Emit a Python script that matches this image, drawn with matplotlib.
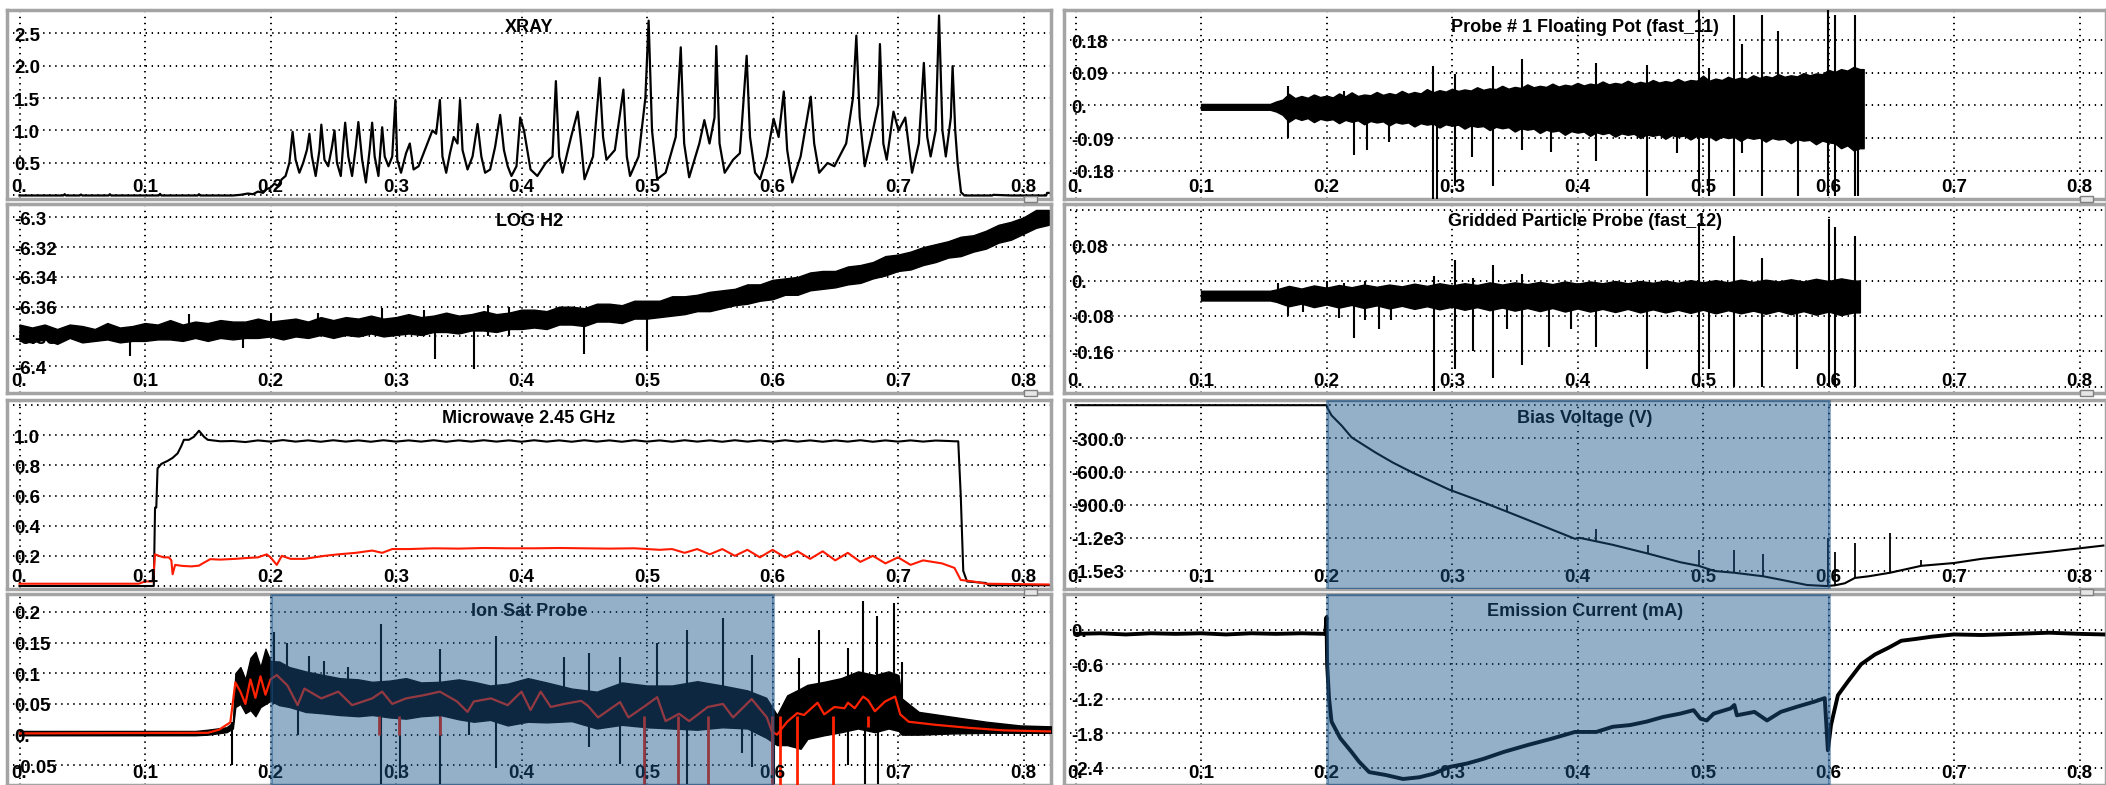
import matplotlib
matplotlib.use("Agg")
import matplotlib.pyplot as plt
from matplotlib import transforms
from matplotlib.patches import Rectangle

plt.rcParams['font.family'] = ['Liberation Sans', 'DejaVu Sans']

# ------------------------------------------------------------------ data
xray_t = [0.000,0.035,0.036,0.037,0.048,0.049,0.050,0.071,0.072,0.073,0.111,0.112,0.113,0.142,0.143,0.144,
          0.170,0.176,0.182,0.186,0.190,0.194,0.197,0.200,0.203,0.206,0.209,0.212,0.215,0.2176,0.220,0.223,
          0.226,0.229,0.231,0.233,0.236,0.239,0.2405,0.243,0.246,0.249,0.251,0.253,0.256,0.258,0.2595,0.262,
          0.265,0.268,0.270,0.273,0.276,0.279,0.281,0.283,0.286,0.289,0.291,0.294,0.297,0.2995,0.301,0.304,
          0.308,0.311,0.314,0.318,0.322,0.326,0.329,0.332,0.335,0.337,0.340,0.343,0.346,0.349,0.351,0.353,
          0.357,0.361,0.365,0.368,0.371,0.375,0.379,0.383,0.386,0.389,0.392,0.396,0.399,0.402,0.4072,0.4126,
          0.4193,0.4247,0.4274,0.430,0.4327,0.4395,0.4448,0.4475,0.4502,0.457,0.4623,0.465,0.4677,0.4744,
          0.4812,0.4839,0.4865,0.4933,0.4987,0.5013,0.504,0.5081,0.5148,0.5229,0.5269,0.5296,0.5336,0.5417,
          0.5457,0.5498,0.5538,0.5552,0.5578,0.5619,0.5686,0.574,0.5794,0.5821,0.5861,0.5901,0.5955,0.6009,
          0.6049,0.609,0.6117,0.6157,0.6224,0.6305,0.6332,0.6372,0.6439,0.6493,0.6587,0.6641,0.6668,0.6695,
          0.6735,0.6789,0.6843,0.6856,0.6883,0.691,0.6964,0.7004,0.7058,0.7112,0.7166,0.7206,0.7233,0.726,
          0.730,0.7327,0.7354,0.7381,0.7421,0.7435,0.7456,0.7475,0.7502,0.7529,0.775,0.776,0.790,0.818,
          0.8188,0.820]
xray_v = [0.0,0.0,0.02,0.0,0.0,0.015,0.0,0.0,0.02,0.0,0.0,0.025,0.0,0.0,0.02,0.0,
          0.0,0.01,0.03,0.02,0.06,0.04,0.10,0.12,0.18,0.15,0.25,0.30,0.50,0.98,0.55,0.35,
          0.50,0.70,0.95,0.60,0.30,0.70,1.09,0.55,0.45,0.75,1.00,0.50,0.30,0.80,1.12,0.60,
          0.30,0.75,1.13,0.55,0.20,0.70,1.12,0.60,0.30,1.05,0.60,0.45,0.60,1.47,0.55,0.35,
          0.65,0.80,0.40,0.45,0.65,0.85,1.00,0.95,1.47,0.60,0.35,0.65,0.90,0.80,1.47,0.70,
          0.40,0.60,1.10,0.60,0.35,0.40,0.75,1.24,0.70,0.45,0.30,0.45,1.20,1.00,0.40,0.30,
          0.50,0.60,1.76,0.60,0.35,0.90,1.29,0.80,0.25,0.60,1.81,0.90,0.55,0.70,
          1.63,0.60,0.30,0.60,1.50,2.69,1.00,0.25,0.35,0.90,2.28,0.80,0.28,0.80,
          1.16,0.80,1.20,2.30,0.80,0.35,0.55,0.65,2.15,0.90,0.35,0.25,0.60,1.18,
          0.90,1.60,0.70,0.20,0.60,1.52,0.80,0.35,0.50,0.45,0.80,1.50,2.46,1.20,
          0.45,0.90,1.40,2.33,0.80,0.55,1.29,1.00,1.20,0.35,0.80,2.04,0.90,0.60,
          1.00,2.77,1.00,0.60,1.20,1.99,1.00,0.50,0.05,0.0,0.0,0.01,0.0,0.0,
          0.04,0.04]

logh2_t = [0.00,0.01,0.02,0.03,0.04,0.05,0.06,0.07,0.08,0.09,0.10,0.11,0.12,0.13,0.14,0.15,0.16,0.17,0.18,0.19,
           0.20,0.21,0.22,0.23,0.24,0.25,0.26,0.27,0.28,0.29,0.30,0.31,0.32,0.33,0.34,0.35,0.36,0.37,0.38,0.39,
           0.40,0.41,0.42,0.43,0.44,0.45,0.46,0.47,0.48,0.49,0.50,0.51,0.52,0.53,0.54,0.55,0.56,0.57,0.58,0.59,
           0.60,0.61,0.62,0.63,0.64,0.65,0.66,0.67,0.68,0.69,0.70,0.71,0.72,0.73,0.74,0.75,0.76,0.77,0.78,0.79,
           0.80,0.81,0.82]
logh2_hi = [-6.372,-6.374,-6.372,-6.375,-6.372,-6.373,-6.375,-6.371,-6.374,-6.373,-6.371,-6.372,-6.369,-6.372,
            -6.370,-6.371,-6.369,-6.370,-6.370,-6.368,-6.370,-6.369,-6.368,-6.370,-6.367,-6.369,-6.367,-6.368,
            -6.366,-6.368,-6.367,-6.365,-6.367,-6.366,-6.364,-6.366,-6.365,-6.363,-6.365,-6.364,-6.362,-6.362,
            -6.363,-6.360,-6.360,-6.361,-6.358,-6.358,-6.359,-6.356,-6.356,-6.356,-6.353,-6.353,-6.352,-6.350,
            -6.349,-6.348,-6.345,-6.345,-6.342,-6.341,-6.340,-6.337,-6.336,-6.336,-6.333,-6.332,-6.330,-6.326,
            -6.325,-6.323,-6.320,-6.318,-6.316,-6.313,-6.312,-6.309,-6.305,-6.303,-6.300,-6.295,-6.295]
logh2_lo = [-6.383,-6.384,-6.382,-6.385,-6.381,-6.384,-6.383,-6.382,-6.384,-6.383,-6.383,-6.382,-6.382,-6.383,
            -6.381,-6.383,-6.381,-6.382,-6.381,-6.381,-6.380,-6.382,-6.380,-6.381,-6.379,-6.381,-6.379,-6.380,
            -6.378,-6.380,-6.379,-6.378,-6.379,-6.377,-6.377,-6.378,-6.376,-6.376,-6.377,-6.375,-6.375,-6.374,
            -6.375,-6.372,-6.372,-6.373,-6.370,-6.370,-6.371,-6.368,-6.368,-6.367,-6.366,-6.365,-6.363,-6.363,
            -6.361,-6.359,-6.358,-6.356,-6.355,-6.352,-6.352,-6.349,-6.348,-6.347,-6.345,-6.344,-6.341,-6.339,
            -6.336,-6.335,-6.332,-6.330,-6.327,-6.326,-6.323,-6.321,-6.317,-6.315,-6.311,-6.307,-6.305]
logh2_spk_t = [0.088,0.135,0.178,0.200,0.238,0.289,0.322,0.331,0.362,0.373,0.390,0.45,0.50]
logh2_spk_lo = [-6.393,-6.380,-6.388,-6.380,-6.380,-6.380,-6.380,-6.395,-6.402,-6.380,-6.380,-6.392,-6.390]
logh2_spk_hi = [-6.376,-6.365,-6.372,-6.364,-6.364,-6.361,-6.362,-6.370,-6.370,-6.359,-6.360,-6.362,-6.360]

mw_t = [0.0,0.107,0.108,0.109,0.110,0.113,0.118,0.122,0.126,0.129,0.131,0.135,0.139,0.143,0.147,0.150,0.155,0.160,
        0.17,0.18,0.19,0.20,0.21,0.22,0.23,0.24,0.25,0.26,0.27,0.28,0.29,0.30,0.31,0.32,0.33,0.34,0.35,0.36,
        0.37,0.38,0.39,0.40,0.41,0.42,0.43,0.44,0.45,0.46,0.47,0.48,0.49,0.50,0.51,0.52,0.53,0.54,0.55,0.56,
        0.57,0.58,0.59,0.60,0.61,0.62,0.63,0.64,0.65,0.66,0.67,0.68,0.69,0.70,0.71,0.72,0.73,0.74,0.745,0.748,
        0.750,0.752,0.755,0.770,0.772,0.820]
mw_black = [0.0,0.0,0.52,0.52,0.78,0.81,0.83,0.85,0.88,0.93,0.97,0.97,0.99,1.03,0.99,0.97,0.965,0.96,
            0.962,0.955,0.966,0.958,0.968,0.958,0.966,0.957,0.967,0.958,0.966,0.957,0.967,0.958,0.966,0.958,0.967,0.957,0.966,0.958,
            0.967,0.958,0.966,0.957,0.967,0.958,0.966,0.957,0.967,0.958,0.966,0.957,0.967,0.958,0.966,0.957,0.967,0.958,0.966,0.957,
            0.967,0.958,0.966,0.957,0.967,0.958,0.966,0.957,0.966,0.958,0.967,0.957,0.966,0.958,0.966,0.958,0.965,0.962,0.960,0.960,
            0.60,0.10,0.03,0.02,0.005,0.005]
mwr_t = [0.0,0.095,0.100,0.106,0.107,0.108,0.111,0.115,0.119,0.121,0.122,0.124,0.130,0.137,0.143,0.146,0.152,0.160,
         0.172,0.180,0.190,0.197,0.200,0.205,0.209,0.216,0.227,0.235,0.243,0.254,0.268,0.281,0.289,0.297,0.31,0.33,
         0.35,0.37,0.39,0.41,0.43,0.45,0.47,0.49,0.50,0.51,0.52,0.53,0.54,0.55,0.56,0.57,0.58,0.59,0.60,0.61,0.62,
         0.63,0.64,0.65,0.66,0.67,0.68,0.69,0.70,0.71,0.72,0.735,0.745,0.750,0.760,0.770,0.820]
mwr_v = [0.015,0.015,0.03,0.03,0.10,0.21,0.20,0.19,0.19,0.17,0.078,0.14,0.133,0.13,0.135,0.15,0.178,0.175,
         0.18,0.185,0.19,0.21,0.19,0.14,0.20,0.18,0.18,0.19,0.20,0.21,0.22,0.235,0.22,0.245,0.245,0.25,
         0.248,0.252,0.25,0.25,0.252,0.25,0.248,0.25,0.245,0.24,0.245,0.22,0.245,0.21,0.245,0.20,0.24,0.19,0.24,0.19,0.23,
         0.18,0.23,0.17,0.22,0.16,0.20,0.15,0.19,0.14,0.17,0.15,0.12,0.04,0.03,0.015,0.01]

ion_t = [0.0,0.14,0.15,0.165,0.170,0.172,0.176,0.180,0.184,0.188,0.192,0.196,0.200,0.207,0.215,0.228,0.240,0.255,
         0.270,0.281,0.295,0.308,0.320,0.335,0.350,0.362,0.375,0.389,0.405,0.420,0.440,0.460,0.480,0.500,0.520,
         0.540,0.560,0.580,0.595,0.6036,0.6117,0.6224,0.6278,0.6412,0.6547,0.6681,0.6816,0.6924,0.7004,0.703,
         0.7166,0.7435,0.7704,0.7973,0.830]
ion_hi = [0.006,0.006,0.008,0.012,0.020,0.100,0.110,0.090,0.125,0.135,0.110,0.140,0.120,0.119,0.110,0.103,0.098,0.092,
          0.090,0.086,0.088,0.092,0.085,0.086,0.090,0.086,0.080,0.083,0.092,0.085,0.075,0.070,0.085,0.080,0.080,
          0.087,0.080,0.072,0.060,0.032,0.064,0.075,0.081,0.086,0.092,0.103,0.097,0.103,0.097,0.059,
          0.037,0.029,0.021,0.015,0.013]
ion_lo = [-0.001,-0.001,0.000,0.004,0.010,0.045,0.050,0.035,0.040,0.030,0.045,0.050,0.055,0.048,0.045,0.037,0.035,0.032,
          0.030,0.032,0.028,0.026,0.030,0.032,0.025,0.021,0.024,0.015,0.021,0.020,0.022,0.010,0.016,0.012,0.010,
          0.008,0.012,0.010,-0.005,-0.017,-0.017,-0.023,-0.007,-0.001,0.004,0.010,0.004,0.010,0.006,0.000,
          0.000,0.002,0.003,0.003,0.003]
ion_red_t = [0.0,0.150,0.159,0.168,0.172,0.176,0.180,0.184,0.188,0.192,0.196,0.200,0.205,0.2135,0.2216,0.227,0.2405,
             0.254,0.265,0.281,0.289,0.297,0.308,0.3216,0.335,0.3486,0.357,0.362,0.3757,0.389,0.400,0.4072,0.4153,
             0.4233,0.4341,0.4475,0.4529,0.461,0.4785,0.4852,0.4987,0.5081,0.5148,0.5256,0.5336,0.5484,0.5605,0.5686,
             0.5834,0.5955,0.5995,0.6036,0.6117,0.6197,0.6251,0.6359,0.6412,0.6493,0.6574,0.6601,0.6655,0.6722,
             0.6762,0.6816,0.6897,0.6977,0.7018,0.7085,0.730,0.7569,0.7838,0.8255]
ion_red = [0.002,0.003,0.008,0.020,0.085,0.070,0.050,0.090,0.060,0.095,0.065,0.090,0.097,0.080,0.048,0.075,0.059,
           0.070,0.048,0.059,0.070,0.050,0.059,0.064,0.070,0.054,0.037,0.054,0.059,0.048,0.070,0.040,0.070,
           0.045,0.050,0.055,0.047,0.028,0.053,0.028,0.047,0.061,0.022,0.034,0.022,0.045,0.050,0.028,
           0.058,0.028,0.005,0.000,0.021,0.035,0.032,0.052,0.033,0.045,0.043,0.052,0.043,0.062,
           0.056,0.038,0.054,0.062,0.033,0.021,0.016,0.011,0.007,0.005]
ion_spk_t = [0.169,0.2027,0.2135,0.2216,0.231,0.243,0.262,0.288,0.303,0.335,0.358,0.380,0.434,0.454,0.4785,
             0.4987,0.508,0.5315,0.5605,0.5753,0.5834,0.601,0.6211,0.6372,0.6601,0.6722,0.6735,0.6829,0.6843,
             0.6972,0.7031]
ion_spk_lo = [-0.050,0.050,0.050,0.000,0.040,0.040,0.030,-0.080,-0.070,-0.080,0.000,-0.055,0.020,-0.020,-0.048,
              -0.080,0.015,-0.080,0.015,-0.030,-0.053,-0.080,0.000,0.000,-0.050,0.010,-0.080,0.010,-0.080,
              0.010,0.010]
ion_spk_hi = [0.020,0.167,0.150,0.050,0.128,0.120,0.110,0.180,0.060,0.140,0.060,0.160,0.127,0.133,0.127,
              0.060,0.149,0.171,0.190,0.060,0.130,0.040,0.125,0.171,0.141,0.217,0.060,0.193,0.060,
              0.215,0.119]
ion_red_spk_t = [0.2865,0.3027,0.335,0.4973,0.525,0.5484,0.5995,0.6063,0.6197,0.648,0.6762]
ion_red_spk_lo = [0.000,0.000,0.000,-0.09,-0.09,-0.09,-0.09,-0.09,-0.09,-0.09,0.013]

p1_t = [0.100,0.155,
        0.160,0.165,0.170,0.175,0.180,0.185,0.190,0.195,0.200,0.205,0.210,0.215,0.220,0.225,0.230,0.235,
        0.240,0.245,0.250,0.255,0.260,0.265,0.270,0.275,0.280,0.285,0.290,0.295,0.300,0.305,0.310,0.315,
        0.320,0.325,0.330,0.335,0.340,0.345,0.350,0.355,0.360,0.365,0.370,0.375,0.380,0.385,0.390,0.395,
        0.400,0.405,0.410,0.415,0.420,0.425,0.430,0.435,0.440,0.445,0.450,0.455,0.460,0.465,0.470,0.475,
        0.480,0.485,0.490,0.495,0.500,0.505,0.510,0.515,0.520,0.525,0.530,0.535,0.540,0.545,0.550,0.555,
        0.560,0.565,0.570,0.575,0.580,0.585,0.590,0.595,0.600,0.605,0.610,0.615,0.620,0.625,0.628]
p1_hi = [0.004,0.004,
         0.011,0.016,0.032,0.020,0.026,0.021,0.030,0.023,0.027,0.022,0.033,0.025,0.036,0.026,0.030,0.028,
         0.037,0.029,0.034,0.030,0.040,0.032,0.037,0.033,0.045,0.036,0.042,0.038,0.046,0.040,0.044,0.041,
         0.050,0.043,0.047,0.045,0.054,0.046,0.051,0.048,0.058,0.050,0.054,0.051,0.060,0.052,0.057,0.054,
         0.062,0.055,0.060,0.057,0.066,0.058,0.062,0.059,0.068,0.060,0.065,0.061,0.070,0.063,0.067,0.064,
         0.073,0.065,0.070,0.068,0.082,0.068,0.074,0.070,0.079,0.072,0.077,0.073,0.083,0.076,0.081,0.077,
         0.086,0.079,0.083,0.080,0.089,0.083,0.088,0.086,0.098,0.092,0.100,0.096,0.106,0.100,0.100]
p1_lo = [-0.012,-0.012,
         -0.017,-0.026,-0.045,-0.034,-0.040,-0.035,-0.046,-0.037,-0.041,-0.038,-0.049,-0.040,-0.045,-0.041,-0.052,-0.043,
         -0.047,-0.044,-0.055,-0.046,-0.050,-0.047,-0.058,-0.049,-0.053,-0.050,-0.061,-0.052,-0.056,-0.053,-0.064,-0.055,
         -0.059,-0.057,-0.068,-0.059,-0.063,-0.060,-0.072,-0.063,-0.067,-0.064,-0.076,-0.067,-0.072,-0.069,-0.081,-0.071,
         -0.075,-0.072,-0.084,-0.074,-0.079,-0.075,-0.086,-0.077,-0.081,-0.078,-0.090,-0.080,-0.084,-0.080,-0.092,-0.082,
         -0.086,-0.083,-0.094,-0.084,-0.088,-0.085,-0.096,-0.086,-0.090,-0.087,-0.098,-0.088,-0.092,-0.089,-0.100,-0.090,
         -0.094,-0.092,-0.104,-0.093,-0.097,-0.095,-0.107,-0.097,-0.102,-0.104,-0.118,-0.110,-0.124,-0.118,-0.118]
p1_spk_t = [0.169,0.214,0.222,0.2325,0.250,0.285,0.288,0.302,0.316,0.333,0.356,0.379,0.415,0.455,0.479,
            0.4965,0.5045,0.5246,0.5313,0.5473,0.5594,0.5754,0.5995,0.6048,0.6209,0.6235]
p1_spk_lo = [-0.091,-0.040,-0.138,-0.124,-0.100,-0.269,-0.269,-0.222,-0.143,-0.222,-0.124,-0.129,-0.154,-0.250,-0.130,
             -0.250,-0.250,-0.250,-0.131,-0.250,-0.080,-0.250,-0.250,-0.250,-0.250,-0.250]
p1_spk_hi = [0.053,0.040,0.020,0.020,0.020,0.109,0.030,0.086,0.030,0.109,0.128,0.040,0.117,0.112,0.050,
             0.262,0.103,0.248,0.168,0.248,0.206,0.050,0.262,0.248,0.248,0.080]

gp_t = [0.100,0.155,0.16,0.17,0.18,0.19,0.20,0.21,0.22,0.23,0.24,0.25,0.26,0.27,0.28,0.29,0.30,0.31,0.32,0.33,
        0.34,0.35,0.36,0.37,0.38,0.39,0.40,0.41,0.42,0.43,0.44,0.45,0.46,0.47,0.48,0.49,0.50,0.51,0.52,0.53,
        0.54,0.55,0.56,0.57,0.58,0.59,0.60,0.61,0.62,0.625]
gp_hi = [-0.023,-0.023,-0.020,-0.012,-0.018,-0.011,-0.016,-0.010,-0.015,-0.009,-0.014,-0.009,-0.013,-0.007,-0.012,
         -0.006,-0.011,-0.006,-0.010,-0.004,-0.009,-0.004,-0.008,-0.003,-0.008,-0.002,-0.007,-0.002,-0.006,-0.001,
         -0.006,-0.001,-0.005,0.000,-0.005,0.001,-0.004,0.001,-0.004,0.002,-0.003,0.002,-0.002,0.003,-0.002,0.004,
         -0.001,0.005,0.000,0.000]
gp_lo = [-0.045,-0.045,-0.048,-0.058,-0.052,-0.060,-0.054,-0.061,-0.055,-0.062,-0.056,-0.063,-0.057,-0.064,-0.058,
         -0.065,-0.059,-0.066,-0.060,-0.067,-0.061,-0.068,-0.062,-0.069,-0.062,-0.070,-0.063,-0.070,-0.064,-0.071,
         -0.064,-0.072,-0.065,-0.072,-0.066,-0.073,-0.066,-0.074,-0.067,-0.074,-0.068,-0.075,-0.068,-0.076,-0.069,
         -0.077,-0.070,-0.078,-0.072,-0.072]
gp_spk_t = [0.161,0.169,0.181,0.200,0.210,0.214,0.222,0.231,0.242,0.251,0.286,0.302,0.317,0.333,0.344,0.356,
            0.377,0.395,0.415,0.455,0.497,0.505,0.525,0.547,0.575,0.600,0.605,0.621]
gp_spk_lo = [-0.030,-0.080,-0.070,-0.040,-0.085,-0.040,-0.130,-0.090,-0.110,-0.090,-0.250,-0.200,-0.160,-0.220,-0.110,-0.190,
             -0.150,-0.110,-0.150,-0.200,-0.240,-0.200,-0.240,-0.240,-0.200,-0.240,-0.240,-0.240]
gp_spk_hi = [-0.005,-0.020,-0.020,0.000,-0.020,-0.005,-0.020,0.000,-0.020,-0.020,0.010,0.046,0.005,0.036,-0.010,0.014,
             -0.010,-0.010,-0.010,-0.010,0.130,0.000,0.100,0.050,-0.010,0.140,0.120,0.100]

bias_t = [0.0,0.200,0.201,0.204,0.212,0.220,0.239,0.253,0.269,0.298,0.320,0.344,0.371,0.398,0.4016,0.415,0.428,
          0.456,0.482,0.4965,0.509,0.525,0.548,0.562,0.583,0.598,0.605,0.613,0.621,0.632,0.649,0.674,0.700,
          0.722,0.749,0.776,0.800,0.819]
bias_v = [0.0,0.0,-30,-92,-184,-291,-428,-520,-612,-765,-857,-964,-1086,-1209,-1200,-1232,-1263,
          -1342,-1421,-1453,-1500,-1516,-1548,-1579,-1627,-1636,-1630,-1611,-1563,-1548,-1516,-1453,-1428,
          -1390,-1358,-1326,-1295,-1270]
bias_spk_t = [0.300,0.344,0.415,0.456,0.4965,0.525,0.548,0.5995,0.605,0.621,0.649,0.674]
bias_spk_lo = [-770,-964,-1232,-1342,-1453,-1516,-1548,-1636,-1630,-1563,-1516,-1453]
bias_spk_hi = [-720,-900,-1121,-1263,-1310,-1310,-1342,-1200,-1326,-1247,-1153,-1400]

em_t = [0.0,0.02,0.04,0.06,0.08,0.10,0.12,0.14,0.16,0.18,0.199,0.200,0.2005,0.202,0.204,0.211,0.220,0.226,0.234,
        0.247,0.261,0.274,0.285,0.298,0.312,0.325,0.341,0.360,0.379,0.398,0.415,0.428,0.442,0.455,0.468,0.482,
        0.4925,0.498,0.503,0.5086,0.522,0.525,0.527,0.541,0.551,0.562,0.575,0.589,0.597,0.5995,0.602,0.6075,
        0.6155,0.626,0.637,0.648,0.658,0.669,0.682,0.700,0.722,0.749,0.776,0.800,0.819]
em_v = [-0.07,-0.06,-0.08,-0.06,-0.07,-0.06,-0.08,-0.06,-0.07,-0.06,-0.07,0.22,-0.60,-1.19,-1.60,-1.89,-2.13,-2.30,-2.48,
        -2.53,-2.60,-2.57,-2.51,-2.39,-2.33,-2.25,-2.13,-2.01,-1.90,-1.78,-1.78,-1.69,-1.66,-1.60,-1.52,-1.46,
        -1.40,-1.55,-1.58,-1.46,-1.37,-1.31,-1.49,-1.43,-1.58,-1.43,-1.34,-1.25,-1.19,-2.10,-1.66,-1.14,
        -0.90,-0.60,-0.43,-0.31,-0.19,-0.16,-0.12,-0.08,-0.09,-0.07,-0.05,-0.07,-0.08]

xticks = [0.0,0.1,0.2,0.3,0.4,0.5,0.6,0.7,0.8]
xticklabels = ["0.","0.1","0.2","0.3","0.4","0.5","0.6","0.7","0.8"]

# ------------------------------------------------------------------ layout helpers
W, H = 2106, 785
fig = plt.figure(figsize=(W / 100, H / 100), dpi=100)
fig.patch.set_facecolor('white')

LBL = dict(fontsize=13.5, fontweight='bold', color='black')
TTL = dict(fontsize=13, fontweight='bold', color='black')


def panel(x0, x1, y0, y1, xlim, ylim, ygrid, ylabels, title):
    ax = fig.add_axes([x0 / W, 1 - y1 / H, (x1 - x0) / W, (y1 - y0) / H])
    ax.set_xlim(*xlim)
    ax.set_ylim(*ylim)
    ax.set_xticks(xticks)
    ax.set_yticks(ygrid)
    ax.tick_params(length=0, labelbottom=False, labelleft=False)
    ax.grid(True, color='black', linestyle=(0, (0.7, 2.4)), linewidth=1.4)
    ax.set_axisbelow(True)
    for s in ax.spines.values():
        s.set_color('#a4a4a4')
        s.set_linewidth(2.5)
    ty = transforms.blended_transform_factory(ax.transAxes, ax.transData) + \
        transforms.ScaledTranslation(7 / 100, -3 / 100, fig.dpi_scale_trans)
    for v, s in ylabels:
        ax.text(0, v, s, transform=ty, ha='left', va='center', zorder=6, **LBL)
    tx = transforms.blended_transform_factory(ax.transData, ax.transAxes) + \
        transforms.ScaledTranslation(0, 11 / 100, fig.dpi_scale_trans)
    for v, s in zip(xticks, xticklabels):
        ax.text(v, 0, s, transform=tx, ha='center', va='center', zorder=6, **LBL)
    tt = ax.transAxes + transforms.ScaledTranslation(0, -18 / 100, fig.dpi_scale_trans)
    ax.text(0.5, 1, title, transform=tt, ha='center', va='center', zorder=6, **TTL)
    return ax


def shade(ax):
    ax.axvspan(0.2, 0.6, facecolor='#1c558b', alpha=0.47, edgecolor='#1c558b', lw=2.2, zorder=10)


LX = (7, 1051)
RX = (1064, 2106)
LXL = ((7 - 19.5) / 1255, (1051 - 19.5) / 1255)
RXL = ((1064 - 1075.5) / 1255, (2106 - 1075.5) / 1255)
ROWS = [(10, 199), (204, 393), (400, 589), (594, 785)]

# ---- XRAY
ax = panel(*LX, *ROWS[0], LXL, (-0.054, 2.854), [0, 0.5, 1.0, 1.5, 2.0, 2.5],
           [(0.5, "0.5"), (1.0, "1.0"), (1.5, "1.5"), (2.0, "2.0"), (2.5, "2.5")], "XRAY")
ax.plot(xray_t, xray_v, color='black', lw=1.6, zorder=3)

# ---- LOG H2
ax = panel(*LX, *ROWS[1], LXL, (-6.418, -6.291), [-6.4, -6.38, -6.36, -6.34, -6.32, -6.3],
           [(-6.3, "-6.3"), (-6.32, "-6.32"), (-6.34, "-6.34"), (-6.36, "-6.36"), (-6.38, "-6.38"), (-6.4, "-6.4")],
           "LOG H2")
ax.fill_between(logh2_t, logh2_lo, logh2_hi, color='black', lw=1.0, zorder=3)
ax.vlines(logh2_spk_t, logh2_spk_lo, logh2_spk_hi, color='black', lw=1.5, zorder=3)

# ---- Microwave
ax = panel(*LX, *ROWS[2], LXL, (-0.02, 1.234), [0, 0.2, 0.4, 0.6, 0.8, 1.0, 1.2],
           [(0.2, "0.2"), (0.4, "0.4"), (0.6, "0.6"), (0.8, "0.8"), (1.0, "1.0")], "Microwave 2.45 GHz")
ax.plot(mw_t, mw_black, color='black', lw=1.5, zorder=3)
ax.plot(mwr_t, mwr_v, color='#ff1a00', lw=1.5, zorder=4)

# ---- Ion Sat Probe
ax = panel(*LX, *ROWS[3], LXL, (-0.082, 0.229), [-0.05, 0, 0.05, 0.1, 0.15, 0.2],
           [(0.2, "0.2"), (0.15, "0.15"), (0.1, "0.1"), (0.05, "0.05"), (0.0, "0."), (-0.05, "-0.05")],
           "Ion Sat Probe")
ax.fill_between(ion_t, ion_lo, ion_hi, color='black', lw=1.0, zorder=3)
ax.vlines(ion_spk_t, ion_spk_lo, ion_spk_hi, color='black', lw=1.5, zorder=3)
ax.plot(ion_red_t, ion_red, color='#ff2200', lw=1.6, zorder=4)
ax.vlines(ion_red_spk_t, ion_red_spk_lo, [0.03] * len(ion_red_spk_t), color='#ff2200', lw=2.0, zorder=4)
shade(ax)

# ---- Probe #1
ax = panel(*RX, *ROWS[0], RXL, (-0.258, 0.263), [-0.18, -0.09, 0, 0.09, 0.18],
           [(0.18, "0.18"), (0.09, "0.09"), (0.0, "0."), (-0.09, "-0.09"), (-0.18, "-0.18")],
           "Probe # 1 Floating Pot (fast_11)")
ax.fill_between(p1_t, p1_lo, p1_hi, color='black', lw=1.0, zorder=3)
ax.vlines(p1_spk_t, p1_spk_lo, p1_spk_hi, color='black', lw=1.5, zorder=3)

# ---- Gridded
ax = panel(*RX, *ROWS[1], RXL, (-0.254, 0.173), [-0.24, -0.16, -0.08, 0, 0.08, 0.16],
           [(0.08, "0.08"), (0.0, "0."), (-0.08, "-0.08"), (-0.16, "-0.16")],
           "Gridded Particle Probe (fast_12)")
ax.fill_between(gp_t, gp_lo, gp_hi, color='black', lw=1.0, zorder=3)
ax.vlines(gp_spk_t, gp_spk_lo, gp_spk_hi, color='black', lw=1.5, zorder=3)

# ---- Bias voltage
ax = panel(*RX, *ROWS[2], RXL, (-1663, 47), [0, -300, -600, -900, -1200, -1500],
           [(-300, "-300.0"), (-600, "-600.0"), (-900, "-900.0"), (-1200, "-1.2e3"), (-1500, "-1.5e3")],
           "Bias Voltage (V)")
ax.plot(bias_t, bias_v, color='black', lw=1.5, zorder=3)
ax.vlines(bias_spk_t, bias_spk_lo, bias_spk_hi, color='black', lw=1.3, zorder=3)
shade(ax)

# ---- Emission current
ax = panel(*RX, *ROWS[3], RXL, (-2.705, 0.625), [0.6, 0, -0.6, -1.2, -1.8, -2.4],
           [(0.0, "0."), (-0.6, "-0.6"), (-1.2, "-1.2"), (-1.8, "-1.8"), (-2.4, "-2.4")],
           "Emission Current (mA)")
ax.plot(em_t, em_v, color='black', lw=2.8, zorder=3)
shade(ax)

# small window-handle boxes
for bx in (1024, 2080):
    for by in (196, 390, 589):
        fig.add_artist(Rectangle((bx / W, 1 - (by + 6) / H), 13 / W, 6 / H, transform=fig.transFigure,
                                 facecolor='#e6e6e6', edgecolor='#808080', lw=1.0, zorder=20))

fig.savefig('out.png', dpi=100, facecolor='white')
